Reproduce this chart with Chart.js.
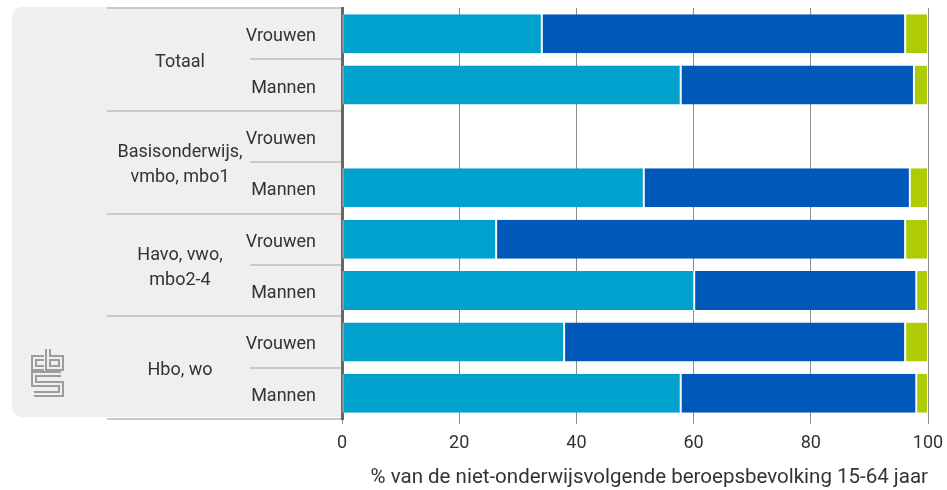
<!DOCTYPE html>
<html>
<head>
<meta charset="utf-8">
<script src="https://cdn.jsdelivr.net/npm/chart.js@4"></script>
<style>
  html, body { margin: 0; padding: 0; background: #fff; }
  #wrap { width: 947px; height: 490px; position: relative; }
</style>
</head>
<body>
<div id="wrap"><canvas id="myChart"></canvas></div>
<script>
// rows from top to bottom, two per education group
const rowLabels = ["Vrouwen", "Mannen", "Vrouwen", "Mannen", "Vrouwen", "Mannen", "Vrouwen", "Mannen"];
const groupLabels = [["Totaal"], ["Basisonderwijs,", "vmbo, mbo1"], ["Havo, vwo,", "mbo2-4"], ["Hbo, wo"]];

// shares per row (%), no value for the empty row
const seriesA = [34.1, 57.8, null, 51.5, 26.3, 60.1, 37.9, 57.8];
const seriesB = [62.0, 39.8, null, 45.4, 69.8, 37.9, 58.2, 40.2];
const seriesC = [3.9, 2.4, null, 3.1, 3.9, 2.0, 3.9, 2.0];

const xTicks = [0, 20, 40, 60, 80, 100];
const xTitle = "% van de niet-onderwijsvolgende beroepsbevolking 15-64 jaar";

const FONT = "Roboto, 'Noto Sans', sans-serif";
const TEXT = "#333333";

// grey panel, group labels, separators and logo left of the plot
const panelPlugin = {
  id: "panel",
  beforeDraw(chart) {
    const ctx = chart.ctx;
    const y = chart.scales.y;
    const left = chart.chartArea.left;
    const top = chart.chartArea.top;
    const rowH = (chart.chartArea.bottom - top) / rowLabels.length;
    ctx.save();
    ctx.fillStyle = "#efefef";
    ctx.beginPath();
    ctx.roundRect(12, top - 1, left - 12, chart.chartArea.bottom - top - 1, [10, 0, 0, 10]);
    ctx.fill();

    ctx.strokeStyle = "#c9c9c9";
    ctx.lineWidth = 2;
    for (let i = 0; i <= rowLabels.length; i++) {
      const yy = Math.round(top + i * rowH);
      const x0 = i % 2 === 0 ? 107 : 250;
      ctx.beginPath();
      ctx.moveTo(x0, yy);
      ctx.lineTo(left, yy);
      ctx.stroke();
    }

    ctx.fillStyle = TEXT;
    ctx.font = "18px " + FONT;
    ctx.textAlign = "center";
    ctx.textBaseline = "middle";
    groupLabels.forEach((lines, g) => {
      const cy = (y.getPixelForValue(2 * g) + y.getPixelForValue(2 * g + 1)) / 2 + 3;
      const lh = 25;
      lines.forEach((t, k) => {
        ctx.fillText(t, 180, cy + (k - (lines.length - 1) / 2) * lh);
      });
    });

    // cbs logo, hollow strokes
    const logo = [
      [[44, 358], [34, 358], [34, 368], [44, 368]],
      [[48, 349], [48, 368], [61, 368], [61, 358], [48, 358]],
      [[61, 374], [34, 374], [34, 384], [61, 384], [61, 394], [34, 394]]
    ];
    [[6, "#9d9d9d"], [2, "#efefef"]].forEach(([w, c]) => {
      ctx.lineWidth = w;
      ctx.strokeStyle = c;
      ctx.lineJoin = "miter";
      logo.forEach((pts) => {
        ctx.beginPath();
        pts.forEach((p, k) => (k ? ctx.lineTo(p[0], p[1]) : ctx.moveTo(p[0], p[1])));
        ctx.stroke();
      });
    });
    ctx.restore();
  }
};

function noPad(s) {
  s.paddingTop = 0;
  s.paddingBottom = 0;
  s.paddingLeft = 0;
  s.paddingRight = 0;
}

const ctx = document.getElementById("myChart").getContext("2d");
const myChart = new Chart(ctx, {
  type: "bar",
  data: {
    labels: rowLabels,
    datasets: [
      { label: "A", data: seriesA, backgroundColor: "#00a1cd" },
      { label: "B", data: seriesB, backgroundColor: "#0058b8" },
      { label: "C", data: seriesC, backgroundColor: "#afcb05" }
    ].map((d) => ({
      ...d,
      borderColor: "#ffffff",
      borderWidth: { left: 1, right: 1 },
      borderSkipped: false,
      barPercentage: 0.76,
      categoryPercentage: 1
    }))
  },
  options: {
    indexAxis: "y",
    responsive: true,
    maintainAspectRatio: false,
    animation: false,
    layout: { padding: { left: 12, right: 19, top: 8, bottom: 0 } },
    plugins: { legend: { display: false }, tooltip: { enabled: false } },
    scales: {
      x: {
        stacked: true,
        min: 0,
        max: 100,
        afterBuildTicks: (s) => { s.ticks = xTicks.map((v) => ({ value: v })); },
        afterFit: (s) => { s.height = 71; noPad(s); },
        grid: { color: "#8c8c8c", lineWidth: 1, tickLength: 5 },
        border: { display: false },
        ticks: { color: TEXT, font: { family: FONT, size: 18 }, padding: 9 },
        title: {
          display: true,
          text: xTitle,
          align: "end",
          color: TEXT,
          font: { family: FONT, size: 20.5 },
          padding: { top: 0, bottom: 0 }
        }
      },
      y: {
        stacked: true,
        afterFit: (s) => { s.width = 330; noPad(s); },
        grid: { drawOnChartArea: false, drawTicks: false },
        border: { color: "#666666", width: 3 },
        ticks: { color: TEXT, font: { family: FONT, size: 18 }, padding: 26, labelOffset: 3 }
      }
    }
  },
  plugins: [panelPlugin]
});
</script>
</body>
</html>
